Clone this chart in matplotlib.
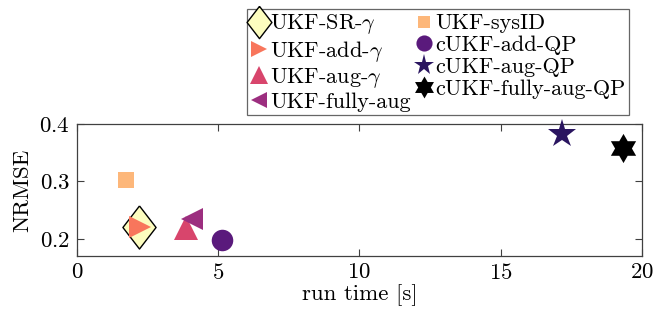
import matplotlib
matplotlib.use("Agg")
import matplotlib.pyplot as plt
import numpy as np
from matplotlib.path import Path

methods = [
    "UKF-SR-$\\gamma$",
    "UKF-add-$\\gamma$",
    "UKF-aug-$\\gamma$",
    "UKF-fully-aug",
    "UKF-sysID",
    "cUKF-add-QP",
    "cUKF-aug-QP",
    "cUKF-fully-aug-QP",
]
run_time = [2.19, 2.23, 3.86, 4.06, 1.73, 5.12, 17.16, 19.34]
nrmse = [0.220, 0.220, 0.218, 0.235, 0.302, 0.198, 0.383, 0.359]

colors = ["#fcfdbf", "#f8765c", "#d8456c", "#9c2e7f",
          "#fdb77a", "#5a1a7c", "#2a1560", "#000000"]

# tall diamond and six-pointed star
diamond = [(0, 1), (0.77, 0), (0, -1), (-0.77, 0), (0, 1)]
hexagram = Path.unit_regular_star(6, 1 / np.sqrt(3))
markers = [diamond, ">", "^", "<", "s", "o", "*", hexagram]
sizes = [31, 16, 17, 16, 12, 15.5, 21, 21]
edges = ["black", "none", "none", "none", "none", "none", "none", "none"]

plt.rcParams["font.family"] = "cmr10"
plt.rcParams["mathtext.fontset"] = "cm"
plt.rcParams["axes.formatter.use_mathtext"] = True
plt.rcParams["font.size"] = 16.5

fig = plt.figure(figsize=(6.53, 3.2), dpi=100)
ax = fig.add_axes([0.118, 0.2, 0.865, 0.4125])

for m, x, y, c, mk, s, e in zip(methods, run_time, nrmse, colors, markers, sizes, edges):
    ax.plot(x, y, linestyle="none", marker=mk, markersize=s, color=c,
            markeredgecolor=e, markeredgewidth=1.0 if e != "none" else 0,
            label=m, clip_on=False, zorder=3)

ax.set_xlim(0, 20)
ax.set_ylim(0.17, 0.4)
ax.set_xticks([0, 5, 10, 15, 20])
ax.set_yticks([0.2, 0.3, 0.4])
ax.set_xlabel("run time [s]", labelpad=1)
ax.set_ylabel("NRMSE", labelpad=5)
ax.tick_params(direction="in", top=True, right=True, length=5, width=0.8,
               color="#404040", pad=5)
for sp in ax.spines.values():
    sp.set_color("#404040")
    sp.set_linewidth(0.9)

handles, labels = ax.get_legend_handles_labels()
leg = fig.legend(handles, labels, ncol=2, loc="upper left",
                 bbox_to_anchor=(0.378, 0.972), frameon=True, fancybox=False,
                 edgecolor="#404040", fontsize=16, handlelength=0.8,
                 handletextpad=0.1, columnspacing=0.2, labelspacing=0.1,
                 borderpad=0.15, borderaxespad=0, markerscale=0.75)
leg.get_frame().set_linewidth(0.9)

fig.savefig("out.png", dpi=100)
